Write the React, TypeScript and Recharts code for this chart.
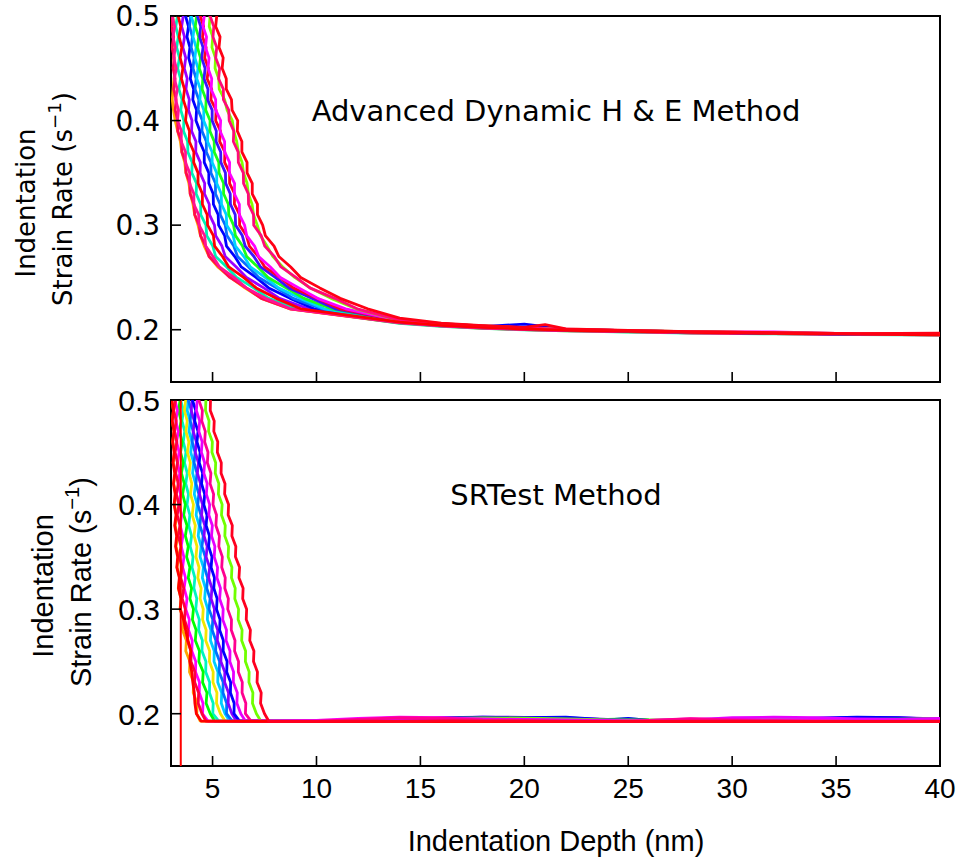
import React from 'react';
import { LineChart, Line, XAxis, YAxis, ReferenceArea } from 'recharts';

// ---------- shared axis settings ----------
const xTicks = [5, 10, 15, 20, 25, 30, 35, 40];
const yTicks = [0.2, 0.3, 0.4, 0.5];
const xDomain = [3, 40];
const yDomain = [0.15, 0.5];

const topTitle = 'Advanced Dynamic H & E Method';
const bottomTitle = 'SRTest Method';
const xTitle = 'Indentation Depth (nm)';
const yTitleLine1 = 'Indentation';
const yTitleLine2 = 'Strain Rate (s';
const yTitleSup = '\u22121';

// ---------- top panel (Advanced Dynamic H & E) ----------
// strain-rate levels at which each curve's depth is read (steep part)
const topLevels = [0.52, 0.51, 0.50, 0.49, 0.48, 0.47, 0.46, 0.45, 0.44, 0.43, 0.42, 0.41, 0.40, 0.39, 0.38, 0.37, 0.36, 0.35, 0.34, 0.33, 0.32, 0.31, 0.30, 0.29, 0.28, 0.27, 0.26, 0.25, 0.24, 0.23, 0.22];
// depths at which the flat tail is read
const topTailX = [14, 16, 18, 20, 21, 22, 25, 28, 32, 36, 40];

const topA = [3.05, 3.12, 3.08, 3.15, 3.10, 3.18, 3.12, 3.20, 3.14, 3.10, 3.06, 3.12, 3.20, 3.32, 3.45, 3.52, 3.66, 3.72, 3.86, 3.93, 4.06, 4.14, 4.30, 4.42, 4.60, 4.84, 5.25, 5.86, 6.55, 7.36, 8.70];
const topATail = [0.2064, 0.2034, 0.2014, 0.2000, 0.1995, 0.1990, 0.1980, 0.1970, 0.1962, 0.1955, 0.1950];
const topP = [3.03, 2.98, 3.09, 3.02, 3.13, 3.05, 3.16, 3.10, 3.20, 3.13, 3.25, 3.20, 3.33, 3.32, 3.51, 3.52, 3.71, 3.72, 3.91, 3.92, 4.11, 4.14, 4.36, 4.42, 4.67, 4.83, 5.32, 5.83, 6.62, 7.34, 8.72];
const topPTail = [0.2066, 0.2036, 0.2016, 0.2002, 0.1996, 0.1991, 0.1981, 0.1971, 0.1962, 0.1955, 0.1951];
const topB = [3.00, 3.14, 3.06, 3.18, 3.09, 3.21, 3.13, 3.26, 3.16, 3.30, 3.22, 3.36, 3.31, 3.50, 3.49, 3.70, 3.69, 3.90, 3.89, 4.10, 4.10, 4.33, 4.35, 4.62, 4.67, 5.02, 5.33, 6.03, 6.62, 7.55, 8.75];
const topBTail = [0.2068, 0.2038, 0.2018, 0.2003, 0.1997, 0.1992, 0.1981, 0.1971, 0.1963, 0.1956, 0.1951];
const topC = [3.26, 3.17, 3.31, 3.23, 3.35, 3.27, 3.41, 3.32, 3.46, 3.38, 3.53, 3.47, 3.62, 3.60, 3.80, 3.81, 4.02, 4.00, 4.23, 4.21, 4.43, 4.43, 4.68, 4.72, 5.01, 5.15, 5.68, 6.16, 6.98, 7.70, 9.10];
const topCTail = [0.2060, 0.2031, 0.2012, 0.1998, 0.1993, 0.1988, 0.1978, 0.1968, 0.1960, 0.1953, 0.1948];
const topD = [3.28, 3.40, 3.34, 3.47, 3.39, 3.52, 3.44, 3.57, 3.50, 3.65, 3.59, 3.75, 3.70, 3.89, 3.88, 4.10, 4.09, 4.30, 4.30, 4.51, 4.51, 4.74, 4.76, 5.04, 5.10, 5.48, 5.78, 6.49, 7.10, 8.06, 9.24];
const topDTail = [0.2072, 0.2042, 0.2022, 0.2007, 0.2000, 0.1995, 0.1984, 0.1974, 0.1965, 0.1958, 0.1952];
const topE = [3.52, 3.45, 3.59, 3.51, 3.65, 3.57, 3.71, 3.64, 3.78, 3.72, 3.88, 3.84, 4.01, 3.99, 4.20, 4.19, 4.41, 4.40, 4.62, 4.61, 4.84, 4.85, 5.09, 5.15, 5.45, 5.61, 6.14, 6.63, 7.46, 8.22, 9.60];
const topETail = [0.2075, 0.2044, 0.2024, 0.2009, 0.2002, 0.1997, 0.1986, 0.1976, 0.1966, 0.1958, 0.1953];
const topF = [3.62, 3.76, 3.70, 3.84, 3.77, 3.91, 3.85, 3.99, 3.93, 4.09, 4.05, 4.23, 4.20, 4.39, 4.38, 4.60, 4.60, 4.82, 4.82, 5.03, 5.04, 5.27, 5.29, 5.58, 5.67, 6.07, 6.38, 7.09, 7.70, 8.73, 9.88];
const topFTail = [0.2078, 0.2048, 0.2030, 0.2054, 0.2030, 0.2000, 0.1988, 0.1977, 0.1967, 0.1959, 0.1953];
const topG = [3.86, 3.80, 3.95, 3.89, 4.03, 3.97, 4.11, 4.06, 4.21, 4.16, 4.34, 4.31, 4.51, 4.49, 4.70, 4.70, 4.92, 4.92, 5.14, 5.14, 5.36, 5.37, 5.61, 5.69, 6.02, 6.20, 6.73, 7.22, 8.07, 8.88, 10.25];
const topGTail = [0.2080, 0.2050, 0.2030, 0.2012, 0.2005, 0.1999, 0.1988, 0.1977, 0.1967, 0.1959, 0.1953];
const topH = [3.88, 4.03, 3.97, 4.12, 4.06, 4.21, 4.15, 4.30, 4.24, 4.42, 4.39, 4.58, 4.57, 4.77, 4.76, 4.98, 4.98, 5.20, 5.20, 5.42, 5.43, 5.66, 5.68, 5.99, 6.10, 6.51, 6.82, 7.53, 8.17, 9.22, 10.37];
const topHTail = [0.2082, 0.2051, 0.2032, 0.2014, 0.2006, 0.2000, 0.1989, 0.1978, 0.1968, 0.1960, 0.1954];
const topI = [4.13, 4.08, 4.23, 4.17, 4.33, 4.27, 4.42, 4.36, 4.53, 4.50, 4.69, 4.67, 4.88, 4.87, 5.08, 5.08, 5.30, 5.31, 5.53, 5.53, 5.76, 5.78, 6.01, 6.10, 6.44, 6.64, 7.18, 7.67, 8.53, 9.40, 10.74];
const topITail = [0.2084, 0.2053, 0.2033, 0.2015, 0.2007, 0.2001, 0.1990, 0.1979, 0.1969, 0.1960, 0.1955];
const topJ = [4.17, 4.32, 4.27, 4.43, 4.38, 4.54, 4.48, 4.64, 4.59, 4.78, 4.76, 4.98, 4.98, 5.18, 5.17, 5.39, 5.40, 5.62, 5.63, 5.85, 5.86, 6.09, 6.11, 6.43, 6.57, 6.99, 7.31, 8.02, 8.67, 9.77, 10.90];
const topJTail = [0.2086, 0.2055, 0.2034, 0.2016, 0.2008, 0.2002, 0.1990, 0.1979, 0.1969, 0.1961, 0.1955];
const topO = [4.30, 4.46, 4.41, 4.57, 4.52, 4.69, 4.62, 4.80, 4.74, 4.96, 4.92, 5.17, 5.15, 5.38, 5.34, 5.59, 5.58, 5.82, 5.82, 6.06, 6.05, 6.30, 6.30, 6.63, 6.77, 7.20, 7.51, 8.23, 8.88, 10.01, 11.12];
const topOTail = [0.2089, 0.2056, 0.2035, 0.2017, 0.2009, 0.2003, 0.1991, 0.1980, 0.1970, 0.1961, 0.1956];
const topK = [4.48, 4.42, 4.60, 4.54, 4.71, 4.66, 4.83, 4.78, 4.96, 4.93, 5.15, 5.15, 5.39, 5.36, 5.58, 5.58, 5.82, 5.81, 6.06, 6.05, 6.29, 6.29, 6.54, 6.64, 7.02, 7.22, 7.78, 8.26, 9.15, 10.05, 11.40];
const topKTail = [0.2088, 0.2056, 0.2035, 0.2017, 0.2009, 0.2003, 0.1991, 0.1980, 0.1978, 0.1961, 0.1956];
const topL = [4.74, 4.70, 4.88, 4.84, 5.01, 4.97, 5.14, 5.12, 5.30, 5.32, 5.58, 5.70, 5.95, 6.02, 6.16, 6.24, 6.42, 6.49, 6.66, 6.72, 6.90, 6.97, 7.15, 7.30, 7.62, 7.90, 8.38, 8.95, 9.70, 10.70, 11.90];
const topLTail = [0.2090, 0.2057, 0.2036, 0.2018, 0.2010, 0.2004, 0.1992, 0.1981, 0.1971, 0.1962, 0.1957];
const topM = [4.75, 4.91, 4.88, 5.06, 5.02, 5.20, 5.15, 5.34, 5.29, 5.52, 5.52, 5.78, 5.80, 6.02, 6.00, 6.23, 6.24, 6.48, 6.49, 6.72, 6.73, 6.97, 6.98, 7.34, 7.51, 7.97, 8.29, 9.01, 9.68, 10.87, 11.96];
const topMTail = [0.2092, 0.2058, 0.2037, 0.2019, 0.2011, 0.2005, 0.1992, 0.1981, 0.1971, 0.1962, 0.1957];
const topN = [5.05, 5.01, 5.20, 5.15, 5.36, 5.31, 5.51, 5.46, 5.66, 5.66, 5.91, 5.94, 6.21, 6.19, 6.41, 6.41, 6.66, 6.66, 6.91, 6.91, 7.16, 7.16, 7.41, 7.54, 7.96, 8.19, 8.76, 9.24, 10.16, 11.14, 12.46];
const topNTail = [0.2110, 0.2062, 0.2040, 0.2022, 0.2048, 0.2008, 0.1994, 0.1982, 0.1972, 0.1963, 0.1968];

// ---------- bottom panel (SRTest) ----------
const botLevels = [0.52, 0.51, 0.50, 0.49, 0.48, 0.47, 0.46, 0.45, 0.44, 0.43, 0.42, 0.41, 0.40, 0.39, 0.38, 0.37, 0.36, 0.35, 0.34, 0.33, 0.32, 0.31, 0.30, 0.29, 0.28, 0.27, 0.26, 0.25, 0.24, 0.23, 0.22, 0.21, 0.20, 0.193];
const botTailX = [8, 10, 12, 14, 16, 18, 20, 22, 24, 25, 26, 28, 30, 32, 34, 36, 38, 40];

const botA = [3.00, 3.08, 3.03, 3.12, 3.06, 3.15, 3.08, 3.18, 3.11, 3.20, 3.13, 3.23, 3.16, 3.27, 3.20, 3.31, 3.24, 3.37, 3.29, 3.43, 3.35, 3.49, 3.43, 3.60, 3.55, 3.74, 3.71, 3.91, 3.89, 4.09, 4.07, 4.26, 4.24, 4.40];
const botATail = [0.1930, 0.1932, 0.1935, 0.1938, 0.1940, 0.1942, 0.1940, 0.1935, 0.1930, 0.1930, 0.1930, 0.1932, 0.1935, 0.1938, 0.1936, 0.1934, 0.1932, 0.1930];
const botF = [3.39, 3.53, 3.46, 3.60, 3.53, 3.66, 3.59, 3.72, 3.65, 3.78, 3.71, 3.84, 3.77, 3.91, 3.85, 3.99, 3.92, 4.06, 4.01, 4.15, 4.10, 4.24, 4.19, 4.36, 4.33, 4.51, 4.49, 4.68, 4.67, 4.86, 4.85, 5.03, 5.01, 5.30];
const botFTail = [0.1929, 0.1931, 0.1934, 0.1937, 0.1940, 0.1942, 0.1940, 0.1937, 0.1934, 0.1933, 0.1932, 0.1933, 0.1935, 0.1937, 0.1936, 0.1934, 0.1932, 0.1931];
const botD = [3.63, 3.57, 3.71, 3.65, 3.78, 3.72, 3.86, 3.79, 3.93, 3.87, 4.00, 3.94, 4.08, 4.02, 4.17, 4.11, 4.25, 4.20, 4.35, 4.29, 4.45, 4.40, 4.55, 4.52, 4.69, 4.67, 4.86, 4.85, 5.03, 5.02, 5.21, 5.19, 5.38, 5.60];
const botDTail = [0.1931, 0.1935, 0.1940, 0.1950, 0.1958, 0.1960, 0.1955, 0.1948, 0.1940, 0.1938, 0.1935, 0.1940, 0.1945, 0.1948, 0.1945, 0.1942, 0.1940, 0.1938];
const botE = [3.37, 3.29, 3.44, 3.36, 3.49, 3.40, 3.54, 3.46, 3.59, 3.50, 3.64, 3.56, 3.69, 3.61, 3.77, 3.69, 3.83, 3.75, 3.91, 3.83, 3.99, 3.91, 4.08, 4.03, 4.21, 4.17, 4.37, 4.34, 4.55, 4.52, 4.73, 4.69, 4.89, 5.10];
const botETail = [0.1930, 0.1932, 0.1938, 0.1945, 0.1955, 0.1962, 0.1958, 0.1950, 0.1945, 0.1950, 0.1940, 0.1935, 0.1955, 0.1950, 0.1945, 0.1940, 0.1950, 0.1955];
const botG = [3.74, 3.69, 3.84, 3.78, 3.92, 3.87, 4.01, 3.95, 4.09, 4.04, 4.18, 4.12, 4.26, 4.21, 4.36, 4.31, 4.45, 4.40, 4.56, 4.51, 4.66, 4.62, 4.77, 4.75, 4.92, 4.90, 5.08, 5.07, 5.26, 5.25, 5.44, 5.42, 5.60, 5.82];
const botGTail = [0.1930, 0.1932, 0.1936, 0.1942, 0.1948, 0.1950, 0.1946, 0.1940, 0.1936, 0.1935, 0.1934, 0.1936, 0.1940, 0.1943, 0.1941, 0.1938, 0.1936, 0.1934];
const botH = [3.73, 3.88, 3.83, 3.98, 3.92, 4.07, 4.02, 4.16, 4.11, 4.25, 4.20, 4.34, 4.29, 4.44, 4.39, 4.55, 4.49, 4.65, 4.61, 4.76, 4.72, 4.88, 4.83, 5.01, 4.98, 5.16, 5.15, 5.34, 5.32, 5.51, 5.50, 5.68, 5.67, 5.95];
const botHTail = [0.1930, 0.1933, 0.1936, 0.1940, 0.1945, 0.1950, 0.1948, 0.1945, 0.1940, 0.1938, 0.1935, 0.1936, 0.1940, 0.1942, 0.1945, 0.1950, 0.1955, 0.1948];
const botJ = [3.91, 3.87, 4.02, 3.97, 4.12, 4.07, 4.22, 4.17, 4.32, 4.27, 4.42, 4.37, 4.52, 4.47, 4.63, 4.59, 4.74, 4.69, 4.86, 4.81, 4.97, 4.93, 5.09, 5.07, 5.25, 5.23, 5.41, 5.40, 5.59, 5.58, 5.77, 5.75, 5.93, 6.15];
const botJTail = [0.1930, 0.1932, 0.1938, 0.1945, 0.1962, 0.1968, 0.1965, 0.1960, 0.1945, 0.1940, 0.1935, 0.1932, 0.1935, 0.1940, 0.1955, 0.1965, 0.1962, 0.1950];
const botI = [3.92, 4.07, 4.03, 4.19, 4.14, 4.30, 4.25, 4.40, 4.36, 4.52, 4.47, 4.62, 4.58, 4.73, 4.69, 4.85, 4.81, 4.97, 4.93, 5.09, 5.06, 5.22, 5.19, 5.36, 5.34, 5.52, 5.51, 5.70, 5.68, 5.87, 5.86, 6.04, 6.03, 6.30];
const botITail = [0.1930, 0.1932, 0.1935, 0.1940, 0.1958, 0.1966, 0.1962, 0.1966, 0.1940, 0.1955, 0.1935, 0.1932, 0.1935, 0.1945, 0.1958, 0.1968, 0.1962, 0.1945];
const botL = [4.53, 4.50, 4.68, 4.66, 4.83, 4.81, 4.99, 4.97, 5.15, 5.13, 5.30, 5.28, 5.46, 5.43, 5.61, 5.59, 5.77, 5.75, 5.93, 5.91, 6.09, 6.07, 6.25, 6.23, 6.42, 6.40, 6.59, 6.58, 6.76, 6.75, 6.94, 6.92, 7.11, 7.32];
const botLTail = [0.1930, 0.1934, 0.1940, 0.1948, 0.1955, 0.1960, 0.1958, 0.1950, 0.1942, 0.1940, 0.1938, 0.1936, 0.1945, 0.1950, 0.1948, 0.1945, 0.1948, 0.1952];
const botC = [3.13, 3.26, 3.19, 3.31, 3.23, 3.35, 3.27, 3.39, 3.31, 3.42, 3.34, 3.46, 3.38, 3.51, 3.44, 3.57, 3.49, 3.62, 3.56, 3.70, 3.63, 3.77, 3.71, 3.88, 3.84, 4.02, 4.00, 4.19, 4.18, 4.37, 4.36, 4.54, 4.52, 4.78];
const botCTail = [0.1930, 0.1935, 0.1955, 0.1968, 0.1962, 0.1945, 0.1938, 0.1935, 0.1932, 0.1930, 0.1935, 0.1950, 0.1945, 0.1938, 0.1935, 0.1932, 0.1930, 0.1935];
const botK = [4.14, 4.09, 4.26, 4.22, 4.38, 4.34, 4.50, 4.46, 4.62, 4.58, 4.74, 4.70, 4.86, 4.82, 4.99, 4.95, 5.11, 5.08, 5.24, 5.21, 5.38, 5.34, 5.51, 5.49, 5.67, 5.65, 5.84, 5.83, 6.01, 6.00, 6.19, 6.17, 6.36, 6.58];
const botKTail = [0.1932, 0.1934, 0.1940, 0.1950, 0.1955, 0.1950, 0.1945, 0.1940, 0.1935, 0.1932, 0.1930, 0.1940, 0.1962, 0.1966, 0.1962, 0.1950, 0.1945, 0.1955];
const botM = [4.21, 4.37, 4.34, 4.51, 4.48, 4.65, 4.62, 4.78, 4.75, 4.92, 4.88, 5.05, 5.02, 5.19, 5.16, 5.33, 5.30, 5.47, 5.44, 5.61, 5.59, 5.76, 5.73, 5.91, 5.90, 6.08, 6.06, 6.25, 6.24, 6.43, 6.42, 6.60, 6.58, 6.85];
const botMTail = [0.1928, 0.1930, 0.1945, 0.1962, 0.1958, 0.1942, 0.1935, 0.1932, 0.1930, 0.1930, 0.1935, 0.1952, 0.1940, 0.1935, 0.1932, 0.1930, 0.1930, 0.1932];
const botO = [3.17, 3.09, 3.22, 3.13, 3.25, 3.17, 3.28, 3.20, 3.31, 3.23, 3.35, 3.26, 3.38, 3.30, 3.43, 3.35, 3.48, 3.40, 3.54, 3.47, 3.61, 3.54, 3.69, 3.65, 3.81, 3.79, 3.97, 3.96, 4.15, 4.14, 4.33, 4.31, 4.49, 4.68];
const botOTail = [0.1927, 0.1927, 0.1926, 0.1927, 0.1928, 0.1927, 0.1926, 0.1927, 0.1926, 0.1926, 0.1927, 0.1928, 0.1927, 0.1926, 0.1926, 0.1927, 0.1926, 0.1926];
const botB = [3.02, 3.10, 3.04, 3.12, 3.06, 3.14, 3.08, 3.15, 3.10, 3.18, 3.12, 3.20, 3.15, 3.24, 3.18, 3.27, 3.22, 3.32, 3.28, 3.40, 3.36, 3.48, 3.45, 3.60, 3.70, 3.82, 3.95, 3.90, 4.00, 4.05, 4.12, 4.15, 4.22, 4.45];
const botBTail = [0.1926, 0.1925, 0.1925, 0.1926, 0.1925, 0.1925, 0.1924, 0.1925, 0.1925, 0.1925, 0.1924, 0.1925, 0.1925, 0.1925, 0.1924, 0.1925, 0.1925, 0.1925];
const botN = [4.73, 4.71, 4.90, 4.89, 5.08, 5.06, 5.25, 5.23, 5.42, 5.41, 5.60, 5.58, 5.77, 5.75, 5.95, 5.93, 6.12, 6.10, 6.30, 6.27, 6.47, 6.45, 6.64, 6.62, 6.82, 6.79, 6.99, 6.97, 7.16, 7.14, 7.34, 7.31, 7.50, 7.70];
const botNTail = [0.1925, 0.1926, 0.1928, 0.1930, 0.1932, 0.1930, 0.1928, 0.1926, 0.1925, 0.1925, 0.1925, 0.1926, 0.1928, 0.1927, 0.1926, 0.1925, 0.1925, 0.1925];
// the one curve that drops straight down
const botVertX = [3.47, 3.47];
const botVertY = [0.52, 0.12];

type Pt = { x: number; y: number };

function buildPoints(levels: number[], xs: number[], tailX: number[], tailY: number[]): Pt[] {
  const pts: Pt[] = [];
  const n = Math.min(levels.length, xs.length);
  for (let i = 0; i < n; i++) pts.push({ x: xs[i], y: levels[i] });
  const m = Math.min(tailX.length, tailY.length);
  for (let i = 0; i < m; i++) pts.push({ x: tailX[i], y: tailY[i] });
  return pts;
}

const topSeries = [
  { id: 'tA', color: '#ffa500', xs: topA, tail: topATail },
  { id: 'tC', color: '#00f0b4', xs: topC, tail: topCTail },
  { id: 'tP', color: '#ff0a50', xs: topP, tail: topPTail },
  { id: 'tB', color: '#ff1493', xs: topB, tail: topBTail },
  { id: 'tE', color: '#9b00ff', xs: topE, tail: topETail },
  { id: 'tF', color: '#0000ff', xs: topF, tail: topFTail },
  { id: 'tG', color: '#0a6cff', xs: topG, tail: topGTail },
  { id: 'tH', color: '#00d2ff', xs: topH, tail: topHTail },
  { id: 'tI', color: '#1aff1a', xs: topI, tail: topITail },
  { id: 'tJ', color: '#3c14ff', xs: topJ, tail: topJTail },
  { id: 'tO', color: '#ff0020', xs: topO, tail: topOTail },
  { id: 'tK', color: '#ff00ff', xs: topK, tail: topKTail },
  { id: 'tL', color: '#80ff00', xs: topL, tail: topLTail },
  { id: 'tM', color: '#ff0a7a', xs: topM, tail: topMTail },
  { id: 'tD', color: '#ff0000', xs: topD, tail: topDTail },
  { id: 'tN', color: '#ff0014', xs: topN, tail: topNTail },
];

const botSeries = [
  { id: 'bA', color: '#ffa500', xs: botA, tail: botATail },
  { id: 'bF', color: '#00f5c0', xs: botF, tail: botFTail },
  { id: 'bD', color: '#f2e600', xs: botD, tail: botDTail },
  { id: 'bE', color: '#00ff00', xs: botE, tail: botETail },
  { id: 'bG', color: '#00ccff', xs: botG, tail: botGTail },
  { id: 'bH', color: '#0070ff', xs: botH, tail: botHTail },
  { id: 'bJ', color: '#8800ff', xs: botJ, tail: botJTail },
  { id: 'bI', color: '#0000ff', xs: botI, tail: botITail },
  { id: 'bL', color: '#70ff00', xs: botL, tail: botLTail },
  { id: 'bC', color: '#ff00ff', xs: botC, tail: botCTail },
  { id: 'bK', color: '#e600ff', xs: botK, tail: botKTail },
  { id: 'bM', color: '#ff0090', xs: botM, tail: botMTail },
  { id: 'bO', color: '#ff0040', xs: botO, tail: botOTail },
  { id: 'bB', color: '#ff0000', xs: botB, tail: botBTail },
  { id: 'bN', color: '#ff0020', xs: botN, tail: botNTail },
];

const DEJAVU = "'DejaVu Sans', sans-serif";
const LIBER = "'Liberation Sans', Arial, sans-serif";

const makeXTick = (showLabel: boolean) => (props: any) => {
  const { x, y, payload } = props;
  return (
    <g>
      <line x1={x} x2={x} y1={y} y2={y - 10} stroke="#000" strokeWidth={1.6} />
      {showLabel ? (
        <text x={x} y={y + 32} textAnchor="middle" fontFamily={LIBER} fontSize={28} fill="#000">
          {payload.value}
        </text>
      ) : null}
    </g>
  );
};

const makeYTick = (font: string, size: number) => (props: any) => {
  const { x, y, payload } = props;
  return (
    <g>
      <line x1={x} x2={x + 10} y1={y} y2={y} stroke="#000" strokeWidth={1.6} />
      <text x={x - 11} y={y} dy="0.36em" textAnchor="end" fontFamily={font} fontSize={size} fill="#000">
        {Number(payload.value).toFixed(1)}
      </text>
    </g>
  );
};

const YTitle = (props: any) => {
  const { l1x, l2x, l1y, l2y, font, size } = props;
  return (
    <g>
      <text x={l1x} y={l1y} transform={`rotate(-90, ${l1x}, ${l1y})`} textAnchor="middle" fontFamily={font} fontSize={size} fill="#000">
        {yTitleLine1}
      </text>
      <text x={l2x} y={l2y} transform={`rotate(-90, ${l2x}, ${l2y})`} textAnchor="middle" fontFamily={font} fontSize={size} fill="#000">
        {yTitleLine2}
        <tspan fontSize={size * 0.7} dy={-size * 0.42}>{yTitleSup}</tspan>
        <tspan dy={size * 0.42}>)</tspan>
      </text>
    </g>
  );
};

const PanelTitle = (props: any) => {
  const { tx, ty, text } = props;
  return (
    <text x={tx} y={ty} textAnchor="middle" fontFamily={DEJAVU} fontSize={29} fill="#000">
      {text}
    </text>
  );
};

const XTitle = (props: any) => {
  const { tx, ty } = props;
  return (
    <text x={tx} y={ty} textAnchor="middle" fontFamily={LIBER} fontSize={29} fill="#000">
      {xTitle}
    </text>
  );
};

export default function App() {
  return (
    <div style={{ position: 'absolute', left: 0, top: 0, width: 961, height: 859, background: '#fff' }}>
      <div style={{ position: 'absolute', left: 0, top: 0 }}>
        <LineChart width={961} height={392} margin={{ top: 16, right: 21, bottom: 0, left: 111 }}>
          <XAxis
            type="number"
            dataKey="x"
            domain={xDomain}
            ticks={xTicks}
            interval={0}
            allowDataOverflow
            height={10}
            axisLine={false}
            tickLine={false}
            tickSize={0}
            tickMargin={0}
            tick={makeXTick(false)}
          />
          <YAxis
            type="number"
            domain={yDomain}
            ticks={yTicks}
            interval={0}
            allowDataOverflow
            width={60}
            axisLine={false}
            tickLine={false}
            tickSize={0}
            tickMargin={0}
            tick={makeYTick(DEJAVU, 28)}
            label={<YTitle l1x={35} l1y={203} l2x={72} l2y={199} font={DEJAVU} size={26} />}
          />
          {topSeries.map((s) => (
            <Line
              key={s.id}
              name={s.id}
              data={buildPoints(topLevels, s.xs, topTailX, s.tail)}
              dataKey="y"
              type="linear"
              stroke={s.color}
              strokeWidth={2.8}
              strokeLinejoin="round"
              dot={false}
              activeDot={false}
              isAnimationActive={false}
            />
          ))}
          <ReferenceArea
            x1={3}
            x2={40}
            y1={0.15}
            y2={0.5}
            fill="none"
            fillOpacity={0}
            stroke="#000"
            strokeWidth={2}
            ifOverflow="visible"
            label={<PanelTitle tx={556} ty={121} text={topTitle} />}
          />
        </LineChart>
      </div>
      <div style={{ position: 'absolute', left: 0, top: 372 }}>
        <LineChart width={961} height={487} margin={{ top: 28, right: 21, bottom: 0, left: 111 }}>
          <XAxis
            type="number"
            dataKey="x"
            domain={xDomain}
            ticks={xTicks}
            interval={0}
            allowDataOverflow
            height={93}
            axisLine={false}
            tickLine={false}
            tickSize={0}
            tickMargin={0}
            tick={makeXTick(true)}
            label={<XTitle tx={556} ty={479} />}
          />
          <YAxis
            type="number"
            domain={yDomain}
            ticks={yTicks}
            interval={0}
            allowDataOverflow
            width={60}
            axisLine={false}
            tickLine={false}
            tickSize={0}
            tickMargin={0}
            tick={makeYTick(LIBER, 30)}
            label={<YTitle l1x={53} l1y={214} l2x={91} l2y={210} font={LIBER} size={29} />}
          />
          {botSeries.map((s) => (
            <Line
              key={s.id}
              name={s.id}
              data={buildPoints(botLevels, s.xs, botTailX, s.tail)}
              dataKey="y"
              type="linear"
              stroke={s.color}
              strokeWidth={2.8}
              strokeLinejoin="round"
              dot={false}
              activeDot={false}
              isAnimationActive={false}
            />
          ))}
          <Line
            key="bVert"
            name="bVert"
            data={botVertX.map((x, i) => ({ x, y: botVertY[i] }))}
            dataKey="y"
            type="linear"
            stroke="#ff0000"
            strokeWidth={2}
            dot={false}
            activeDot={false}
            isAnimationActive={false}
          />
          <ReferenceArea
            x1={3}
            x2={40}
            y1={0.15}
            y2={0.5}
            fill="none"
            fillOpacity={0}
            stroke="#000"
            strokeWidth={2}
            ifOverflow="visible"
            label={<PanelTitle tx={556} ty={133} text={bottomTitle} />}
          />
        </LineChart>
      </div>
    </div>
  );
}
